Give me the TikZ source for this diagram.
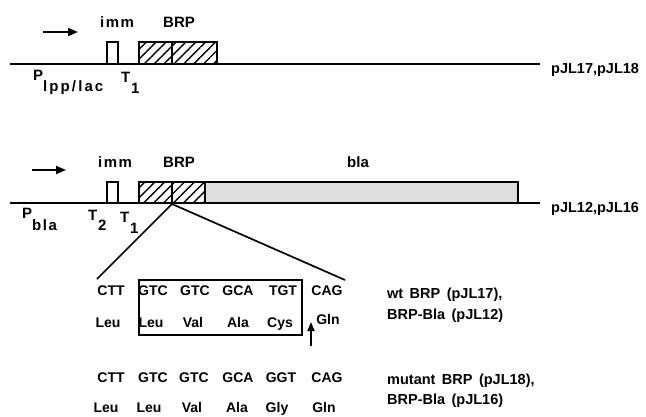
\documentclass[tikz,border=0pt]{standalone}
\usepackage{fontspec}
\setmainfont{Liberation Sans}
\usetikzlibrary{arrows.meta,patterns.meta}
\begin{document}
\begin{tikzpicture}[x=1pt,y=-1pt,
  dna/.style={line width=2.2pt},
  gbox/.style={draw,line width=1.7pt,fill=white},
  hatch/.style={draw,line width=1.7pt,pattern={Lines[angle=45,distance=7pt,line width=1.4pt]}},
  blabox/.style={draw,line width=1.7pt,fill=black!13},
  lbl/.style={font=\fontsize{15}{17}\selectfont\bfseries,inner sep=0pt,anchor=base west},
  sp/.style={font=\fontsize{15}{17}\selectfont\bfseries\addfontfeature{LetterSpace=10},inner sep=0pt,anchor=base west},
  wsp/.style={font=\fontsize{15}{17}\selectfont\bfseries\addfontfeature{LetterSpace=14},inner sep=0pt,anchor=base west},
  seq/.style={font=\fontsize{14}{16}\selectfont\bfseries,inner sep=0pt,anchor=base},
  ann/.style={font=\fontsize{14.5}{16}\selectfont\bfseries,inner sep=0pt,anchor=base west},
  arr/.style={line width=1.8pt,-{Triangle[length=10pt,width=8pt]}},
  zl/.style={line width=1.7pt},
]
\useasboundingbox (0,0) rectangle (646,416);
% ---------- row 1
\coordinate (a1s) at (43,32);
\coordinate (a1e) at (78,32);
\draw[arr] (a1s) -- (a1e);
\draw[dna] (10,64) -- (540,64);
\node[sp] (imm1) at (100,27) {imm};
\node[lbl] (brp1) at (163,27) {BRP};
\draw[gbox] (107,42) rectangle (118,64);
\draw[hatch] (139,42) rectangle (172,64);
\draw[hatch] (172,42) rectangle (217,64);
\node[ann] (pl1) at (551,73) {pJL17,pJL18};
\node[lbl] (P1) at (33,80) {P};
\node[wsp] (P1s) at (43,91) {lpp/lac};
\node[lbl] (T11) at (121,82) {T};
\node[lbl] (T11s) at (131,93) {1};
% ---------- row 2
\coordinate (a2s) at (32,170);
\coordinate (a2e) at (66,170);
\draw[arr] (a2s) -- (a2e);
\draw[dna] (10,203) -- (540,203);
\node[sp] (imm2) at (98,167) {imm};
\node[lbl] (brp2) at (163,167) {BRP};
\node[lbl] (bla) at (347,167) {bla};
\draw[gbox] (107,182) rectangle (118,203);
\draw[hatch] (139,182) rectangle (172,203);
\draw[hatch] (172,182) rectangle (205,203);
\draw[blabox] (205,182) rectangle (518,203);
\node[ann] (pl2) at (551,212) {pJL12,pJL16};
\node[lbl] (P2) at (22,218) {P};
\node[sp] (P2s) at (32,230) {bla};
\node[lbl] (T2) at (88,220) {T};
\node[lbl] (T2s) at (98,230) {2};
\node[lbl] (T1) at (120,222) {T};
\node[lbl] (T1s) at (130,233) {1};
% ---------- zoom lines
\coordinate (zp) at (172,204);
\coordinate (zl) at (97,279);
\coordinate (zr) at (345,280);
\draw[zl] (zl) -- (zp) -- (zr);
% ---------- sequence rows
\node[seq] (c11) at (111,295) {CTT};
\node[seq] (c12) at (153,295) {GTC};
\node[seq] (c13) at (195,295) {GTC};
\node[seq] (c14) at (238,295) {GCA};
\node[seq] (c15) at (283,295) {TGT};
\node[seq] (c16) at (327,295) {CAG};
\node[seq] (a11) at (108,327) {Leu};
\node[seq] (a12) at (151,327) {Leu};
\node[seq] (a13) at (193,327) {Val};
\node[seq] (a14) at (238,327) {Ala};
\node[seq] (a15) at (280,327) {Cys};
\node[seq] (a16) at (328,324) {Gln};
\draw[line width=1.5pt] (139,280) rectangle (302,335);
\coordinate (mutb) at (311,346);
\coordinate (mutt) at (311,322);
\draw[arr,-{Triangle[length=9pt,width=7pt]}] (mutb) -- (mutt);
\node[ann] (wt1) at (387,298) {wt\, BRP\, (pJL17),};
\node[ann] (wt2) at (387,319) {BRP-Bla\, (pJL12)};
\node[seq] (c21) at (111,382) {CTT};
\node[seq] (c22) at (153,382) {GTC};
\node[seq] (c23) at (194,382) {GTC};
\node[seq] (c24) at (238,382) {GCA};
\node[seq] (c25) at (281,382) {GGT};
\node[seq] (c26) at (327,382) {CAG};
\node[seq] (a21) at (106,412) {Leu};
\node[seq] (a22) at (149,412) {Leu};
\node[seq] (a23) at (192,412) {Val};
\node[seq] (a24) at (237,412) {Ala};
\node[seq] (a25) at (277,412) {Gly};
\node[seq] (a26) at (324,412) {Gln};
\node[ann] (mt1) at (387,384) {mutant\, BRP\, (pJL18),};
\node[ann] (mt2) at (387,404) {BRP-Bla\, (pJL16)};
\end{tikzpicture}
\end{document}
